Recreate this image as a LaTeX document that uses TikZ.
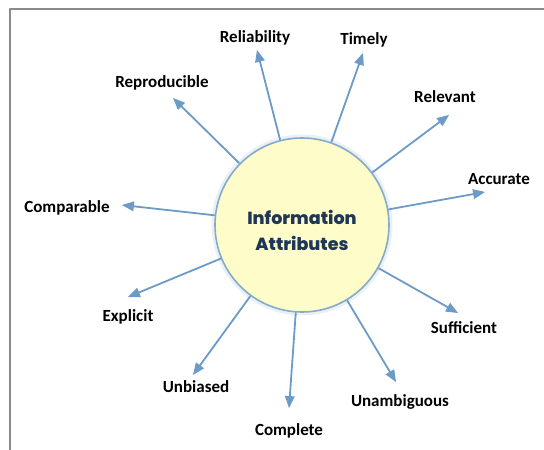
\documentclass[tikz,border=0pt]{standalone}
\usepackage{fontspec}
\setmainfont{Carlito}
\newfontfamily\hubfont{Poppins}[BoldFont={Poppins ExtraBold}]
\usepackage{xcolor}
\usepackage{tikz}
\usetikzlibrary{arrows}
\definecolor{rayblue}{HTML}{6B9BC6}
\definecolor{hubfill}{HTML}{FEFDC9}
\definecolor{hubedge}{HTML}{86AACB}
\definecolor{hubtext}{HTML}{1F3656}
\definecolor{framegray}{HTML}{8A8A8A}
\tikzset{
  attr/.style={font=\fontsize{17}{20}\selectfont\bfseries, text=black, inner sep=1pt},
  ray/.style={->, color=rayblue, line width=1.8pt, shorten <=0.5pt},
  hub/.style={circle, fill=hubfill, draw=hubedge, line width=1.6pt, minimum size=174pt, inner sep=0pt},
  hubtitle/.style={font=\hubfont\fontsize{17.5}{26}\selectfont\bfseries, text=hubtext, align=center}
}
\begin{document}
\begin{tikzpicture}[line cap=round,line join=round,>=triangle 45,x=1pt,y=1pt]
\useasboundingbox (0,0) rectangle (544,450);
\draw [line width=1.8pt, color=framegray, line cap=butt] (10,0) -- (10,441) -- (544,441);
% soft halo round the hub
\fill [color=hubedge!18] (302,225) circle (90.5pt);
\node [hub] (info) at (302,225) {};
\node [hubtitle] (title) at (302,220) {Information\\Attributes};
% tips of the rays
\coordinate (relT) at (257,400);
\coordinate (timT) at (363,397);
\coordinate (rlvT) at (449,335);
\coordinate (accT) at (485,258);
\coordinate (sufT) at (458,137);
\coordinate (unaT) at (396,68);
\coordinate (comT) at (289,42);
\coordinate (unbT) at (193,75);
\coordinate (expT) at (128,153);
\coordinate (cmpT) at (122,245);
\coordinate (repT) at (173,352);
% labels
\node [attr] (rel) at (255,412) {Reliability};
\node [attr] (tim) at (364,410) {Timely};
\node [attr] (rlv) at (445,353) {Relevant};
\node [attr] (acc) at (499,271) {Accurate};
\node [attr] (suf) at (464,122) {Sufficient};
\node [attr] (una) at (400,48) {Unambiguous};
\node [attr] (com) at (289,19) {Complete};
\node [attr] (unb) at (196,63) {Unbiased};
\node [attr] (exp) at (128,133) {Explicit};
\node [attr] (cmp) at (67,242) {Comparable};
\node [attr] (rep) at (162,367) {Reproducible};
% rays
\foreach \t in {relT,timT,rlvT,accT,sufT,unaT,comT,unbT,expT,cmpT,repT}
  \draw [ray] (info) -- (\t);
\end{tikzpicture}
\end{document}
